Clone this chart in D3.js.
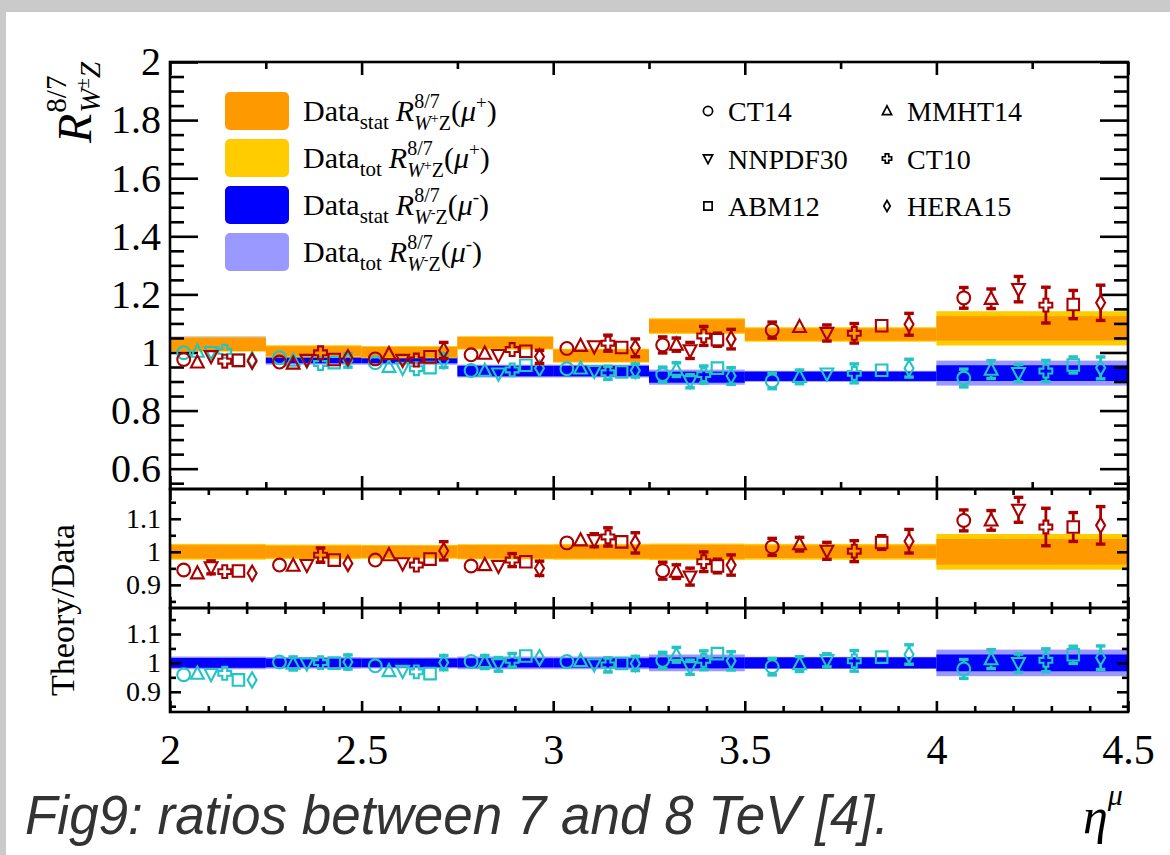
<!DOCTYPE html>
<html><head><meta charset="utf-8">
<script src="https://cdn.jsdelivr.net/npm/d3@7"></script>
<style>body{margin:0;background:#fff}svg{display:block}</style>
</head><body>
<svg id="c" width="1170" height="855"></svg>
<script>
// ---------------- DATA ----------------
const binEdges = [2, 2.25, 2.5, 2.75, 3, 3.25, 3.5, 4, 4.5];
const xTicks = [2, 2.5, 3, 3.5, 4, 4.5];
const xTickLabels = ["2", "2.5", "3", "3.5", "4", "4.5"];
const mainYTicks = [0.6, 0.8, 1, 1.2, 1.4, 1.6, 1.8, 2];
const mainYLabels = ["0.6", "0.8", "1", "1.2", "1.4", "1.6", "1.8", "2"];
const ratioYTicks = [0.9, 1, 1.1];
const ratioYLabels = ["0.9", "1", "1.1"];
const pdfSets = ["CT14", "MMHT14", "NNPDF30", "CT10", "ABM12", "HERA15"];
const pdfMarkers = ["circle", "triUp", "triDown", "cross", "square", "diamond"];

// data bands, main panel
const dataPlusVal  = [1.028, 1.004, 1.001, 1.033, 0.989, 1.091, 1.062, 1.083];
const dataPlusStat = [0.023, 0.017, 0.018, 0.020, 0.021, 0.023, 0.021, 0.042];
const dataPlusTot  = [0.025, 0.021, 0.021, 0.023, 0.024, 0.027, 0.025, 0.059];
const dataMinusVal  = [1.030, 0.973, 0.973, 0.936, 0.936, 0.915, 0.918, 0.929];
const dataMinusStat = [0.018, 0.010, 0.010, 0.018, 0.018, 0.019, 0.016, 0.027];
const dataMinusTot  = [0.025, 0.015, 0.015, 0.022, 0.022, 0.026, 0.019, 0.043];

// relative data bands, ratio panels
const ratioPlusStat  = [0.020, 0.018, 0.018, 0.020, 0.020, 0.021, 0.019, 0.039];
const ratioPlusTot   = [0.024, 0.022, 0.021, 0.023, 0.024, 0.025, 0.024, 0.054];
const ratioMinusStat = [0.017, 0.015, 0.015, 0.016, 0.016, 0.019, 0.019, 0.029];
const ratioMinusTot  = [0.022, 0.020, 0.019, 0.022, 0.022, 0.029, 0.021, 0.046];

// theory predictions, main panel (per bin: CT14, MMHT14, NNPDF30, CT10, ABM12, HERA15)
const thPlusMain = [
  [0.976, 0.966, 0.987, 0.970, 0.973, 0.970],
  [0.967, 0.962, 0.974, 0.999, 0.976, 0.982],
  [0.978, 0.995, 0.974, 0.974, 0.985, 1.007],
  [0.992, 0.996, 0.991, 1.010, 1.004, 0.985],
  [1.014, 1.023, 1.021, 1.032, 1.017, 1.016],
  [1.026, 1.027, 1.007, 1.057, 1.044, 1.046],
  [1.077, 1.088, 1.067, 1.066, 1.092, 1.097],
  [1.188, 1.185, 1.218, 1.163, 1.165, 1.171]];
const thPlusMainErr = [
  [0.017, 0.010, 0.021, 0.017, 0.010, 0.019],
  [0.015, 0.012, 0.018, 0.022, 0.012, 0.019],
  [0.016, 0.012, 0.017, 0.017, 0.012, 0.028],
  [0.018, 0.015, 0.020, 0.021, 0.012, 0.023],
  [0.018, 0.018, 0.020, 0.028, 0.015, 0.031],
  [0.028, 0.023, 0.028, 0.033, 0.023, 0.034],
  [0.028, 0.022, 0.028, 0.034, 0.022, 0.038],
  [0.036, 0.034, 0.044, 0.062, 0.049, 0.061]];
const thMinusMain = [
  [0.999, 1.003, 1.001, 1.004, 0.973, 0.975],
  [0.982, 0.972, 0.972, 0.962, 0.965, 0.973],
  [0.965, 0.951, 0.947, 0.944, 0.948, 0.972],
  [0.938, 0.937, 0.927, 0.940, 0.956, 0.946],
  [0.944, 0.945, 0.936, 0.930, 0.933, 0.938],
  [0.924, 0.941, 0.901, 0.924, 0.946, 0.919],
  [0.902, 0.916, 0.927, 0.928, 0.939, 0.946],
  [0.912, 0.941, 0.929, 0.936, 0.957, 0.947]];
const thMinusMainErr = [
  [0.008, 0.008, 0.012, 0.015, 0.010, 0.018],
  [0.020, 0.022, 0.021, 0.021, 0.012, 0.024],
  [0.012, 0.015, 0.018, 0.016, 0.012, 0.024],
  [0.021, 0.022, 0.022, 0.022, 0.013, 0.021],
  [0.019, 0.019, 0.021, 0.023, 0.013, 0.023],
  [0.026, 0.024, 0.023, 0.030, 0.018, 0.029],
  [0.027, 0.024, 0.021, 0.033, 0.018, 0.031],
  [0.031, 0.031, 0.030, 0.037, 0.028, 0.038]];

// theory / data ratios
const ratioPlus = [
  [0.945, 0.935, 0.953, 0.940, 0.942, 0.935],
  [0.960, 0.958, 0.960, 0.990, 0.975, 0.965],
  [0.975, 0.990, 0.965, 0.960, 0.978, 1.003],
  [0.957, 0.960, 0.957, 0.975, 0.970, 0.950],
  [1.027, 1.035, 1.035, 1.045, 1.030, 1.027],
  [0.943, 0.940, 0.925, 0.970, 0.957, 0.960],
  [1.015, 1.023, 1.003, 1.002, 1.028, 1.032],
  [1.095, 1.095, 1.127, 1.075, 1.075, 1.080]];
const ratioPlusErr = [
  [0.017, 0.010, 0.020, 0.017, 0.010, 0.018],
  [0.015, 0.012, 0.018, 0.022, 0.012, 0.019],
  [0.016, 0.012, 0.017, 0.017, 0.012, 0.028],
  [0.017, 0.015, 0.019, 0.020, 0.012, 0.022],
  [0.018, 0.018, 0.020, 0.028, 0.015, 0.031],
  [0.026, 0.021, 0.026, 0.030, 0.021, 0.031],
  [0.026, 0.021, 0.026, 0.032, 0.021, 0.036],
  [0.032, 0.030, 0.038, 0.057, 0.044, 0.057]];
const ratioMinus = [
  [0.959, 0.963, 0.961, 0.964, 0.941, 0.941],
  [1.003, 0.998, 0.998, 1.001, 0.999, 1.003],
  [0.990, 0.972, 0.972, 0.969, 0.963, 1.001],
  [1.005, 1.003, 0.995, 1.009, 1.024, 1.018],
  [1.005, 1.007, 0.995, 0.993, 0.998, 0.998],
  [1.009, 1.028, 0.985, 1.009, 1.032, 1.007],
  [0.987, 0.996, 1.009, 1.007, 1.020, 1.029],
  [0.979, 1.013, 0.999, 1.009, 1.028, 1.018]];
const ratioMinusErr = [
  [0.008, 0.008, 0.012, 0.015, 0.010, 0.017],
  [0.021, 0.023, 0.022, 0.022, 0.012, 0.025],
  [0.012, 0.015, 0.019, 0.016, 0.012, 0.025],
  [0.022, 0.023, 0.024, 0.024, 0.014, 0.022],
  [0.020, 0.020, 0.022, 0.025, 0.014, 0.025],
  [0.028, 0.026, 0.025, 0.033, 0.020, 0.032],
  [0.029, 0.026, 0.023, 0.036, 0.020, 0.034],
  [0.033, 0.033, 0.032, 0.040, 0.030, 0.041]];

// ---------------- STYLE / LAYOUT ----------------
const C = {orange: "#ff9900", gold: "#ffcc00", blue: "#0000ff", lblue: "#9999ff",
           red: "#aa0000", cyan: "#22c4c4"};
const SERIF = "'Liberation Serif','Times New Roman',serif";
const L = 170, R = 1128;
const P = {
  main: {top: 62, bot: 489, dom: [0.53, 2.0]},
  mid:  {top: 489, bot: 608, dom: [0.83, 1.19]},
  low:  {top: 608, bot: 712, dom: [0.83, 1.19]}
};

const svg = d3.select("#c");
svg.append("rect").attr("width", 1170).attr("height", 855).attr("fill", "#cacaca");
svg.append("rect").attr("x", 6).attr("y", 12).attr("width", 1164).attr("height", 843).attr("fill", "#ffffff");

const x = d3.scaleLinear().domain([2, 4.5]).range([L, R]);
for (const k in P) P[k].y = d3.scaleLinear().domain(P[k].dom).range([P[k].bot, P[k].top]);

const nb = binEdges.length - 1;
const bins = d3.range(nb).map(i => ({lo: binEdges[i], hi: binEdges[i + 1], i}));
function px(b, j) { const a = x(b.lo), w = x(b.hi) - x(b.lo); return a + (j + 1) * w / 7; }

// ---------------- BANDS ----------------
function band(g, y, center, half, color) {
  g.selectAll(null).data(bins).enter().append("rect")
    .attr("x", b => x(b.lo)).attr("width", b => x(b.hi) - x(b.lo))
    .attr("y", b => y(center(b.i) + half[b.i]))
    .attr("height", b => y(center(b.i) - half[b.i]) - y(center(b.i) + half[b.i]))
    .attr("fill", color);
}
const gB = svg.append("g");
band(gB, P.main.y, i => dataMinusVal[i], dataMinusTot, C.lblue);
band(gB, P.main.y, i => dataMinusVal[i], dataMinusStat, C.blue);
band(gB, P.main.y, i => dataPlusVal[i], dataPlusTot, C.gold);
band(gB, P.main.y, i => dataPlusVal[i], dataPlusStat, C.orange);
band(gB, P.mid.y, i => 1, ratioPlusTot, C.gold);
band(gB, P.mid.y, i => 1, ratioPlusStat, C.orange);
band(gB, P.low.y, i => 1, ratioMinusTot, C.lblue);
band(gB, P.low.y, i => 1, ratioMinusStat, C.blue);

// ---------------- AXES ----------------
const gA = svg.append("g");
function styleAxis(sel, fs) {
  sel.select(".domain").remove();
  sel.selectAll(".tick line").attr("stroke", "#000").attr("stroke-width", 2.6);
  sel.selectAll(".tick text").attr("font-family", SERIF).attr("font-size", fs).attr("fill", "#000");
}
function panelAxes(p, yMaj, yMin, yLab, yMajLen, yMinLen, xMaj, xMin, xMajLen, xMinLen, labFs, showX) {
  const y = p.y;
  gA.append("g").attr("transform", `translate(${L},0)`)
    .call(d3.axisLeft(y).tickValues(yMaj).tickSize(-yMajLen).tickPadding(9).tickFormat((d, i) => yLab[i]))
    .call(s => styleAxis(s, labFs));
  gA.append("g").attr("transform", `translate(${L},0)`)
    .call(d3.axisLeft(y).tickValues(yMin).tickSize(-yMinLen).tickFormat(""))
    .call(s => styleAxis(s, labFs));
  gA.append("g").attr("transform", `translate(${R},0)`)
    .call(d3.axisRight(y).tickValues(yMaj).tickSize(-yMajLen).tickFormat(""))
    .call(s => styleAxis(s, labFs));
  gA.append("g").attr("transform", `translate(${R},0)`)
    .call(d3.axisRight(y).tickValues(yMin).tickSize(-yMinLen).tickFormat(""))
    .call(s => styleAxis(s, labFs));
  gA.append("g").attr("transform", `translate(0,${p.top})`)
    .call(d3.axisTop(x).tickValues(xMaj).tickSize(-xMajLen).tickFormat(""))
    .call(s => styleAxis(s, 10));
  gA.append("g").attr("transform", `translate(0,${p.top})`)
    .call(d3.axisTop(x).tickValues(xMin).tickSize(-xMinLen).tickFormat(""))
    .call(s => styleAxis(s, 10));
  gA.append("g").attr("transform", `translate(0,${p.bot})`)
    .call(d3.axisBottom(x).tickValues(xMaj).tickSize(-xMajLen).tickPadding(22)
      .tickFormat((d, i) => showX ? xTickLabels[i] : ""))
    .call(s => styleAxis(s, 42));
  gA.append("g").attr("transform", `translate(0,${p.bot})`)
    .call(d3.axisBottom(x).tickValues(xMin).tickSize(-xMinLen).tickFormat(""))
    .call(s => styleAxis(s, 10));
  gA.append("rect").attr("x", L).attr("y", p.top).attr("width", R - L).attr("height", p.bot - p.top)
    .attr("fill", "none").attr("stroke", "#000").attr("stroke-width", 2.6);
}
const mainYMinor = d3.range(11, 41).map(k => k * 0.05).filter(v => Math.abs(v * 5 - Math.round(v * 5)) > 1e-6);
const ratioYMinor = [0.85, 0.95, 1.05, 1.15];
const mainXMinor = [2.25, 2.75, 3.25, 3.75, 4.25];
const ratioXMinor = d3.range(20, 46).map(k => k / 10).filter(v => Math.abs(v * 2 - Math.round(v * 2)) > 1e-6);
panelAxes(P.main, mainYTicks, mainYMinor, mainYLabels, 28, 14, xTicks, mainXMinor, 13, 7, 40, false);
panelAxes(P.mid, ratioYTicks, ratioYMinor, ratioYLabels, 11, 6, xTicks, ratioXMinor, 11, 6, 28, false);
panelAxes(P.low, ratioYTicks, ratioYMinor, ratioYLabels, 11, 6, xTicks, ratioXMinor, 11, 6, 28, true);

// ---------------- MARKERS ----------------
function markerPath(type, s) {
  switch (type) {
    case "circle": return `M${-s},0A${s},${s} 0 1,0 ${s},0A${s},${s} 0 1,0 ${-s},0Z`;
    case "triUp": return `M0,${-s * 1.1}L${s},${s * 0.8}L${-s},${s * 0.8}Z`;
    case "triDown": return `M0,${s * 1.1}L${s},${-s * 0.8}L${-s},${-s * 0.8}Z`;
    case "cross": { const a = s * 0.38;
      return `M${-a},${-s}L${a},${-s}L${a},${-a}L${s},${-a}L${s},${a}L${a},${a}L${a},${s}L${-a},${s}L${-a},${a}L${-s},${a}L${-s},${-a}L${-a},${-a}Z`; }
    case "square": { const a = s * 0.9; return `M${-a},${-a}H${a}V${a}H${-a}Z`; }
    case "diamond": return `M0,${-s * 1.2}L${s * 0.7},0L0,${s * 1.2}L${-s * 0.7},0Z`;
  }
}
const MS = 6.4;
function drawPoints(y, vals, errs, color) {
  const g = svg.append("g");
  const pts = [];
  bins.forEach(b => pdfSets.forEach((name, j) => pts.push({b, j, v: vals[b.i][j], e: errs[b.i][j]})));
  pts.forEach(p => {
    const cx = px(p.b, p.j), cy = y(p.v), yt = y(p.v + p.e), yb = y(p.v - p.e);
    if (cy - yt > MS) {
      g.append("line").attr("x1", cx).attr("x2", cx).attr("y1", yt).attr("y2", cy - MS)
        .attr("stroke", color).attr("stroke-width", 2.8);
      g.append("line").attr("x1", cx).attr("x2", cx).attr("y1", cy + MS).attr("y2", yb)
        .attr("stroke", color).attr("stroke-width", 2.8);
      g.append("rect").attr("x", cx - 4.8).attr("width", 9.6).attr("y", yt - 1.6).attr("height", 3.4).attr("fill", color);
      g.append("rect").attr("x", cx - 4.8).attr("width", 9.6).attr("y", yb - 1.8).attr("height", 3.4).attr("fill", color);
    }
    g.append("path").attr("d", markerPath(pdfMarkers[p.j], MS)).attr("transform", `translate(${cx},${cy})`)
      .attr("fill", "none").attr("stroke", color).attr("stroke-width", 2.1);
  });
}
drawPoints(P.main.y, thMinusMain, thMinusMainErr, C.cyan);
drawPoints(P.main.y, thPlusMain, thPlusMainErr, C.red);
drawPoints(P.mid.y, ratioPlus, ratioPlusErr, C.red);
drawPoints(P.low.y, ratioMinus, ratioMinusErr, C.cyan);

// ---------------- TEXT HELPERS ----------------
function rich(parent, x0, y0, runs) {
  let cx = x0, mark = x0, maxX = x0;
  runs.forEach(r => {
    if (r.mark) mark = cx;
    if (r.reset) cx = mark;
    if (r.max) cx = maxX;
    if (r.pre) cx += r.pre;
    const t = parent.append("text").attr("x", cx).attr("y", y0 + (r.dy || 0))
      .attr("font-family", SERIF).attr("font-size", r.s).attr("fill", "#000")
      .attr("font-style", r.it ? "italic" : "normal").text(r.t);
    cx += t.node().getComputedTextLength() + (r.gap || 0);
    maxX = Math.max(maxX, cx);
  });
}

// ---------------- LEGENDS ----------------
const legendBands = [
  {c: C.orange, sub: "stat", ch: "+"},
  {c: C.gold, sub: "tot", ch: "+"},
  {c: C.blue, sub: "stat", ch: "-"},
  {c: C.lblue, sub: "tot", ch: "-"}];
const gL = svg.append("g");
legendBands.forEach((d, i) => {
  const yc = 111 + i * 47;
  gL.append("rect").attr("x", 225).attr("y", yc - 19).attr("width", 64).attr("height", 38).attr("rx", 5).attr("fill", d.c);
  rich(gL, 303, yc + 10, [
    {t: "Data", s: 30},
    {t: d.sub, s: 21, dy: 8},
    {t: "R", s: 30, it: 1, pre: 7},
    {t: "8/7", s: 20, dy: -13, mark: 1},
    {t: "W", s: 20, dy: 9, it: 1, reset: 1},
    {t: d.ch === "+" ? "+" : "-", s: 14, dy: 2},
    {t: "Z", s: 20, dy: 9},
    {t: "(", s: 30, max: 1},
    {t: "\u03BC", s: 30, it: 1},
    {t: d.ch === "+" ? "+" : "-", s: 19, dy: -12},
    {t: ")", s: 30}
  ]);
});
pdfSets.forEach((name, j) => {
  const col = j % 2, row = Math.floor(j / 2);
  const mx = col === 0 ? 708 : 887, my = 111 + row * 47.5;
  gL.append("path").attr("d", markerPath(pdfMarkers[j], 4.6)).attr("transform", `translate(${mx},${my})`)
    .attr("fill", "none").attr("stroke", "#000").attr("stroke-width", 1.7);
  gL.append("text").attr("x", mx + 20).attr("y", my + 10).attr("font-family", SERIF).attr("font-size", 28).text(name);
});

// ---------------- TITLES ----------------
const gT = svg.append("g").attr("transform", "translate(91,143) rotate(-90)");
rich(gT, 0, 0, [
  {t: "R", s: 48, it: 1, gap: 1},
  {t: "8/7", s: 29, dy: -25, mark: 1},
  {t: "W", s: 29, it: 1, dy: 9, reset: 1},
  {t: "\u00B1", s: 19, dy: -2},
  {t: "Z", s: 29, it: 1, dy: 9}
]);
svg.append("text").attr("transform", "translate(74,610) rotate(-90)").attr("text-anchor", "middle")
  .attr("font-family", SERIF).attr("font-size", 34).text("Theory/Data");
rich(svg, 1083, 833, [
  {t: "\u03B7", s: 50, it: 1},
  {t: "\u03BC", s: 30, it: 1, dy: -28}
]);
svg.append("text").attr("x", 25).attr("y", 834).attr("font-family", "'Liberation Sans',Arial,sans-serif")
  .attr("font-style", "italic").attr("font-size", 56).attr("fill", "#333333")
  .attr("textLength", 864).attr("lengthAdjust", "spacingAndGlyphs")
  .text("Fig9: ratios between 7 and 8 TeV [4].");
</script>
</body></html>
